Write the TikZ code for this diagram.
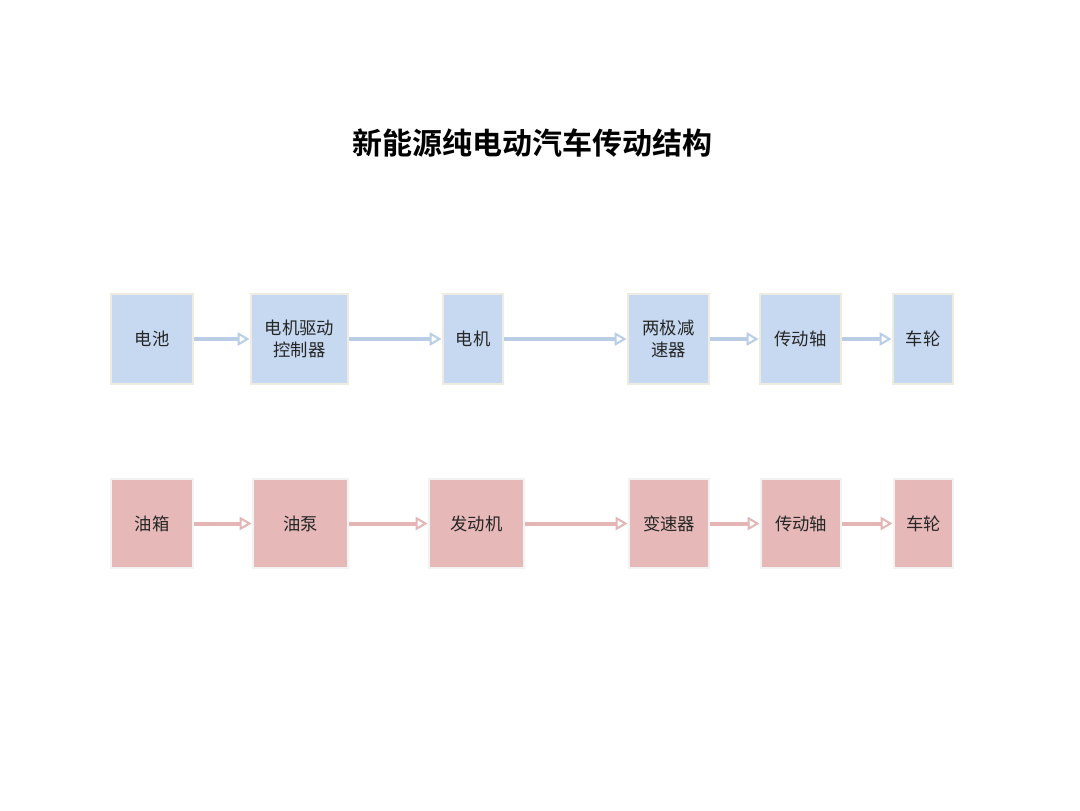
\documentclass[tikz,border=0pt]{standalone}
\usepackage{fontspec}
\setmainfont{Noto Sans CJK SC}
\newfontfamily\titlefont{Noto Sans CJK SC Bold}
\usetikzlibrary{arrows.meta}
\definecolor{bfill}{HTML}{C6D9F1}
\definecolor{pfill}{HTML}{E6B9B8}
\definecolor{bedge}{HTML}{EEECE1}
\definecolor{pedge}{HTML}{F2F2F2}
\definecolor{barrow}{HTML}{B9CDE5}
\definecolor{parrow}{HTML}{E3B6B5}
\begin{document}
\begin{tikzpicture}[x=0.75pt,y=-0.75pt,
  bbox/.style={draw=bedge,line width=2.2pt,fill=bfill,inner sep=0pt,align=center,font=\fontsize{13}{16}\selectfont,text=black!85},
  pbox/.style={draw=pedge,line width=2.2pt,fill=pfill,inner sep=0pt,align=center,font=\fontsize{13}{16}\selectfont,text=black!85},
  barr/.style={draw=barrow,line width=3pt,-{Triangle[open,length=9pt,width=10pt,line width=1.5pt]}},
  parr/.style={draw=parrow,line width=3pt,-{Triangle[open,length=9pt,width=10pt,line width=1.5pt]}}]
\useasboundingbox (0,0) rectangle (1080,810);
\node[font=\titlefont\fontsize{22.5}{25}\selectfont] (title) at (532,143) {新能源纯电动汽车传动结构};
% top row
\node[bbox,minimum width=61.5pt,minimum height=67.5pt] (b1) at (152,339) {电池};
\node[bbox,minimum width=72.75pt,minimum height=67.5pt] (b2) at (299.5,339) {电机驱动\\控制器};
\node[bbox,minimum width=45pt,minimum height=67.5pt] (b3) at (473,339) {电机};
\node[bbox,minimum width=60.75pt,minimum height=67.5pt] (b4) at (668.5,339) {两极减\\速器};
\node[bbox,minimum width=60.75pt,minimum height=67.5pt] (b5) at (800.5,339) {传动轴};
\node[bbox,minimum width=45pt,minimum height=67.5pt] (b6) at (923,339) {车轮};
% bottom row
\node[pbox,minimum width=61.5pt,minimum height=66.75pt] (p1) at (152,523.5) {油箱};
\node[pbox,minimum width=71.25pt,minimum height=66.75pt] (p2) at (300.5,523.5) {油泵};
\node[pbox,minimum width=71.25pt,minimum height=66.75pt] (p3) at (476.5,523.5) {发动机};
\node[pbox,minimum width=60pt,minimum height=66.75pt] (p4) at (669,523.5) {变速器};
\node[pbox,minimum width=60pt,minimum height=66.75pt] (p5) at (801,523.5) {传动轴};
\node[pbox,minimum width=44.25pt,minimum height=66.75pt] (p6) at (923.5,523.5) {车轮};
\foreach \a/\b in {b1/b2,b2/b3,b3/b4,b4/b5,b5/b6} \draw[barr] (\a.east) -- (\b.west);
\foreach \a/\b in {p1/p2,p2/p3,p3/p4,p4/p5,p5/p6} \draw[parr] (\a.east) -- (\b.west);
\end{tikzpicture}
\end{document}
